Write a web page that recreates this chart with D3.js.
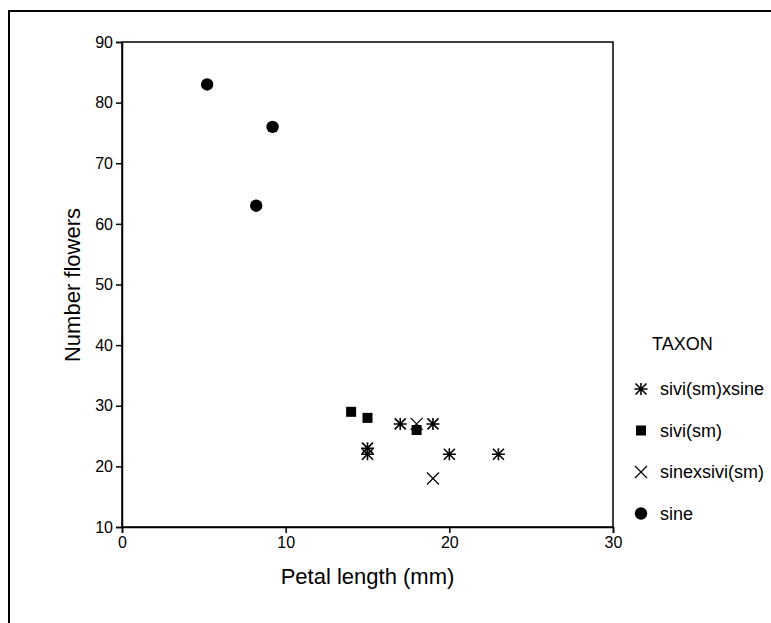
<!DOCTYPE html>
<html>
<head>
<meta charset="utf-8">
<script src="https://cdn.jsdelivr.net/npm/d3@7"></script>
<style>
  body { margin: 0; background: #fff; }
  svg { display: block; font-family: "Liberation Sans", Arial, sans-serif; }
</style>
</head>
<body>
<div id="chart"></div>
<script>
// Taxa in legend order
const taxa = ['sivi(sm)xsine', 'sivi(sm)', 'sinexsivi(sm)', 'sine'];

// Petal length (mm) / number of flowers for each taxon
const hybridX = [17, 19, 15, 15, 20, 23];
const hybridY = [27, 27, 23, 22, 22, 22];
const siviX = [14, 15, 18];
const siviY = [29, 28, 26];
const crossX = [18, 19];
const crossY = [27, 18];
const sineX = [5.2, 9.2, 8.2];
const sineY = [83, 76, 63];

const xTicks = [0, 10, 20, 30];
const yTicks = [10, 20, 30, 40, 50, 60, 70, 80, 90];

const W = 771, H = 623;
const margin = { top: 42, right: 158, bottom: 96, left: 122 };

const svg = d3.select('#chart').append('svg')
    .attr('width', W)
    .attr('height', H);

// outer frame (runs off the right and bottom)
svg.append('path')
    .attr('d', `M9,${H + 5} V11 H${W + 5}`)
    .attr('fill', 'none')
    .attr('stroke', '#000')
    .attr('stroke-width', 2);

const x = d3.scaleLinear().domain([0, 30]).range([margin.left, W - margin.right]);
const y = d3.scaleLinear().domain([10, 90]).range([H - margin.bottom, margin.top]);

// plot box
svg.append('rect')
    .attr('x', x(0))
    .attr('y', y(90))
    .attr('width', x(30) - x(0))
    .attr('height', y(10) - y(90))
    .attr('fill', 'none')
    .attr('stroke', '#000')
    .attr('stroke-width', 1.5);

const xAxis = svg.append('g')
    .attr('transform', `translate(0,${y(10)})`)
    .call(d3.axisBottom(x).tickValues(xTicks).tickSize(6).tickPadding(4).tickFormat(d3.format('d')));

const yAxis = svg.append('g')
    .attr('transform', `translate(${x(0)},0)`)
    .call(d3.axisLeft(y).tickValues(yTicks).tickSize(6).tickPadding(3).tickFormat(d3.format('d')));

[xAxis, yAxis].forEach(g => {
    g.select('.domain').attr('stroke-width', 1.5);
    g.selectAll('.tick line').attr('stroke-width', 1.5);
    g.selectAll('.tick text')
        .attr('font-size', 16)
        .attr('font-family', '"Liberation Sans", Arial, sans-serif')
        .attr('fill', '#000');
});

// axis titles
svg.append('text')
    .attr('x', (x(0) + x(30)) / 2)
    .attr('y', 584)
    .attr('text-anchor', 'middle')
    .attr('font-size', 22)
    .text('Petal length (mm)');

svg.append('text')
    .attr('transform', `translate(80,285) rotate(-90)`)
    .attr('text-anchor', 'middle')
    .attr('font-size', 22)
    .text('Number flowers');

// marker shapes
const starPath = 'M-5.5,-5.5L5.5,5.5M-5.5,5.5L5.5,-5.5M-6.5,0H6.5M0,-6V6';
const crossPath = 'M-6,-6L6,6M-6,6L6,-6';

function drawMarker(g, taxon) {
    if (taxon === 'sivi(sm)xsine') {
        g.append('path').attr('d', starPath)
            .attr('fill', 'none').attr('stroke', '#000').attr('stroke-width', 1.6);
    } else if (taxon === 'sivi(sm)') {
        g.append('rect').attr('x', -5).attr('y', -5)
            .attr('width', 10).attr('height', 10).attr('fill', '#000');
    } else if (taxon === 'sinexsivi(sm)') {
        g.append('path').attr('d', crossPath)
            .attr('fill', 'none').attr('stroke', '#000').attr('stroke-width', 1.2);
    } else {
        g.append('circle').attr('r', 6.2).attr('fill', '#000');
    }
}

const series = [
    { taxon: 'sivi(sm)xsine', xs: hybridX, ys: hybridY },
    { taxon: 'sivi(sm)', xs: siviX, ys: siviY },
    { taxon: 'sinexsivi(sm)', xs: crossX, ys: crossY },
    { taxon: 'sine', xs: sineX, ys: sineY }
];

series.forEach(s => {
    s.xs.forEach((xv, i) => {
        const g = svg.append('g')
            .attr('transform', `translate(${x(xv)},${y(s.ys[i])})`);
        drawMarker(g, s.taxon);
    });
});

// legend
svg.append('text')
    .attr('x', 652)
    .attr('y', 350)
    .attr('font-size', 18)
    .text('TAXON');

const legend = svg.selectAll('.legend-item')
    .data(taxa)
    .join('g')
    .attr('class', 'legend-item')
    .attr('transform', (d, i) => `translate(641,${389 + i * 41.5})`);

legend.each(function (d) { drawMarker(d3.select(this), d); });

legend.append('text')
    .attr('x', 19)
    .attr('dy', '0.35em')
    .attr('font-size', 18)
    .text(d => d);
</script>
</body>
</html>
